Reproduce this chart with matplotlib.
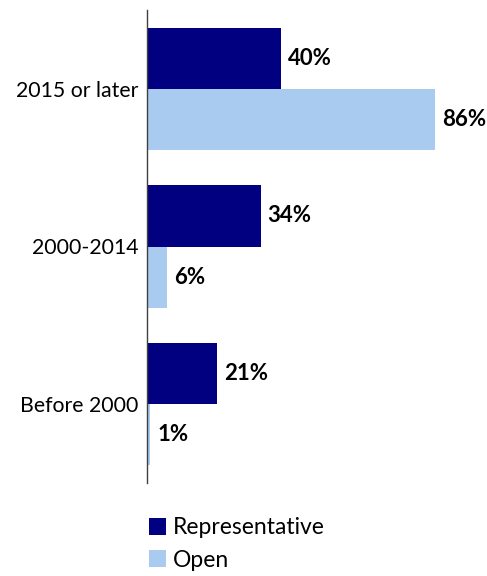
import matplotlib
matplotlib.use("Agg")
import matplotlib.pyplot as plt
import numpy as np

plt.rcParams['font.family'] = ['Lato', 'DejaVu Sans']

categories = ["2015 or later", "2000-2014", "Before 2000"]
representative = [40, 34, 21]
open_vals = [86, 6, 1]

navy = "#000080"
light = "#A9CBEF"

fig = plt.figure(figsize=(4.87, 5.76), dpi=100)
ax = fig.add_axes([147 / 487, 1 - 483 / 576, 340 / 487, 473 / 576])

y = np.arange(len(categories))
h = 0.387
b1 = ax.barh(y - h / 2, representative, height=h, color=navy, label="Representative")
b2 = ax.barh(y + h / 2, open_vals, height=h, color=light, label="Open")

for bars, vals in ((b1, representative), (b2, open_vals)):
    for bar, v in zip(bars, vals):
        ax.text(bar.get_width() + 2.0, bar.get_y() + bar.get_height() / 2, f"{v}%",
                ha="left", va="center", fontsize=16, fontweight="bold", color="black")

ax.set_xlim(0, 101.5)
ax.set_ylim(2.5, -0.5)
ax.set_yticks(y)
ax.set_yticklabels(categories, fontsize=15.3)
ax.tick_params(axis="y", length=0, pad=6)
ax.set_xticks([])
for side in ("top", "right", "bottom"):
    ax.spines[side].set_visible(False)
ax.spines["left"].set_color("#404040")
ax.spines["left"].set_linewidth(1.0)

fig.legend(handles=[b1, b2], loc="upper left", bbox_to_anchor=(140 / 487, 1 - 508 / 576),
           frameon=False, fontsize=16.5, handlelength=0.75, handleheight=0.75,
           handletextpad=0.3, labelspacing=0.5, borderaxespad=0)

fig.savefig("out.png", dpi=100)
